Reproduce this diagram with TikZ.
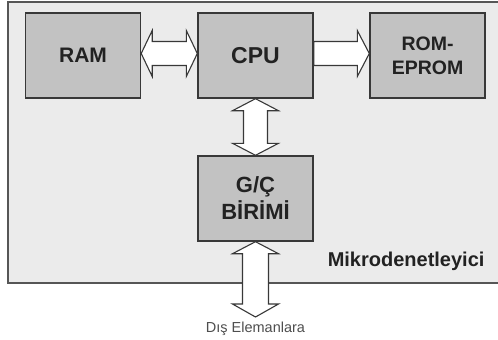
\documentclass[tikz,border=0pt]{standalone}
\usepackage{fontspec}
\setmainfont{Liberation Sans}
\usetikzlibrary{calc}
\definecolor{outerfill}{HTML}{EBEBEB}
\definecolor{boxfill}{HTML}{C2C2C2}
\definecolor{edge}{HTML}{383838}
\definecolor{txt}{HTML}{222222}
\tikzset{
  blk/.style={draw=edge, line width=1.4pt, fill=boxfill, minimum width=115pt, minimum height=85pt,
    inner sep=0pt, align=center, text=txt, font=\bfseries},
  arr/.style={draw=edge, line width=1.1pt, fill=white, line join=miter},
}
\begin{document}
\begin{tikzpicture}[x=1pt,y=-1pt]
\useasboundingbox (0,0) rectangle (498,340);
\fill[white] (0,0) rectangle (498,340);
\draw[draw=edge!85, line width=2pt, fill=outerfill] (8,2) rectangle (520,283);

\node[blk, font=\bfseries\fontsize{21}{24}\selectfont] (ram) at (83,55.5) {RAM};
\node[blk, font=\bfseries\fontsize{23}{26}\selectfont] (cpu) at (255.5,55.5) {CPU};
\node[blk, font=\bfseries\fontsize{19.5}{24}\selectfont] (rom) at (427.5,55.5) {ROM-\\EPROM};
\node[blk, font=\bfseries\fontsize{22}{27}\selectfont] (gc) at (255.5,198.5) {G/Ç\\BİRİMİ};
\node[anchor=east, text=txt, font=\bfseries\fontsize{20}{24}\selectfont] (mk) at (488,261) {Mikrodenetleyici};
\coordinate (ext) at (255.5,317);
\node[text=txt!80, font=\fontsize{14.5}{16}\selectfont, anchor=north] (dis) at (255.5,318) {Dış Elemanlara};

% RAM <-> CPU
\draw[arr] ($(ram.east)+(0,-2)$) -- ++(11,-23) -- ++(0,11) -- ($(cpu.west)+(-11,-14)$) -- ++(0,-11)
  -- ($(cpu.west)+(0,-2)$) -- ++(-11,23) -- ++(0,-11) -- ($(ram.east)+(11,10)$) -- ++(0,11) -- cycle;
% CPU -> ROM
\draw[arr] ($(cpu.east)+(0,-14)$) -- ($(rom.west)+(-12,-14)$) -- ++(0,-11) -- ($(rom.west)+(0,-2)$)
  -- ++(-12,23) -- ++(0,-11) -- ($(cpu.east)+(0,10)$) -- cycle;
% CPU <-> G/C
\draw[arr] (cpu.south) -- ++(23,12) -- ++(-11,0) -- ($(gc.north)+(12,-12)$) -- ++(11,0)
  -- (gc.north) -- ++(-23,-12) -- ++(11,0) -- ($(cpu.south)+(-12,12)$) -- ++(-11,0) -- cycle;
% G/C <-> outside
\draw[arr] (gc.south) -- ++(23,12) -- ++(-10,0) -- ($(ext)+(13,-13)$) -- ++(10,0)
  -- (ext) -- ++(-23,-13) -- ++(10,0) -- ($(gc.south)+(-13,12)$) -- ++(-10,0) -- cycle;
\end{tikzpicture}
\end{document}
